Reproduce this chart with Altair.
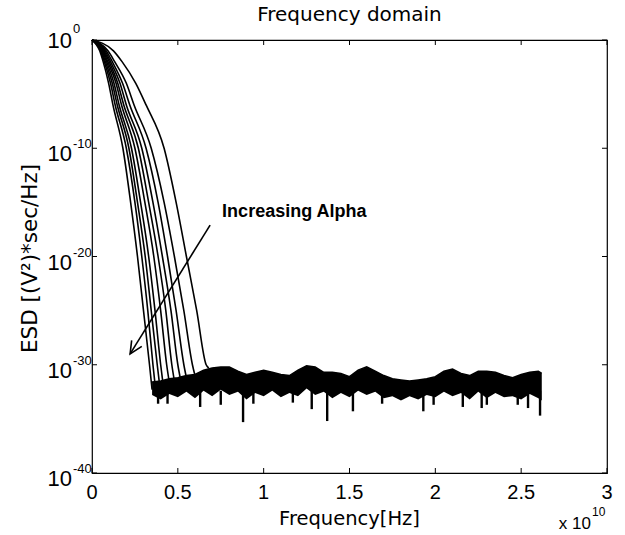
import altair as alt
import pandas as pd

W, H = 515, 433
FONT = "Liberation Sans"
WIDE = "DejaVu Sans"

# ---- decaying part of each ESD curve: frequency (x1e10 Hz) at given log10 levels
levels = [0, -1, -2, -4, -6, -10, -15, -20, -25, -30]
curve_f = [
    [0, 0.045, 0.065, 0.097, 0.122, 0.180, 0.225, 0.265, 0.300, 0.335],
    [0, 0.050, 0.072, 0.108, 0.135, 0.200, 0.250, 0.290, 0.325, 0.355],
    [0, 0.055, 0.078, 0.118, 0.147, 0.215, 0.265, 0.310, 0.345, 0.380],
    [0, 0.060, 0.085, 0.128, 0.158, 0.230, 0.283, 0.330, 0.367, 0.400],
    [0, 0.065, 0.092, 0.140, 0.172, 0.250, 0.308, 0.360, 0.400, 0.435],
    [0, 0.070, 0.100, 0.150, 0.185, 0.270, 0.330, 0.385, 0.430, 0.465],
    [0, 0.076, 0.108, 0.163, 0.200, 0.290, 0.355, 0.410, 0.460, 0.500],
    [0, 0.083, 0.118, 0.178, 0.220, 0.315, 0.385, 0.440, 0.490, 0.535],
    [0, 0.093, 0.132, 0.200, 0.245, 0.345, 0.420, 0.480, 0.535, 0.585],
    [0, 0.125, 0.175, 0.255, 0.315, 0.420, 0.490, 0.550, 0.610, 0.665],
]
# where each curve meets the noise floor
end_f = [0.350, 0.370, 0.395, 0.415, 0.450, 0.480, 0.515, 0.550, 0.600, 0.680]
end_e = [-32.3, -32.2, -32.0, -31.9, -31.6, -31.5, -31.3, -31.2, -31.0, -30.3]

# ---- noise floor band (log10 ESD): upper edge and lower edge of the dense trace bundle
floor_f = [0.35, 0.40, 0.45, 0.50, 0.55, 0.60, 0.65, 0.70, 0.75, 0.80, 0.85, 0.90,
           0.95, 1.00, 1.05, 1.10, 1.15, 1.20, 1.25, 1.30, 1.35, 1.40, 1.45, 1.50,
           1.55, 1.60, 1.65, 1.70, 1.75, 1.80, 1.85, 1.90, 1.95, 2.00, 2.05, 2.10,
           2.15, 2.20, 2.25, 2.30, 2.35, 2.40, 2.45, 2.50, 2.55, 2.60, 2.62]
floor_hi = [-31.6, -31.5, -31.3, -31.2, -31.0, -30.9, -30.5, -30.3, -30.2, -30.2, -30.6, -30.9,
            -30.7, -30.5, -30.7, -30.9, -31.0, -30.5, -30.1, -30.2, -30.7, -30.7, -30.8, -31.1,
            -30.5, -30.2, -30.6, -31.0, -31.3, -31.4, -31.5, -31.4, -31.3, -31.1, -30.6, -30.4,
            -30.8, -31.0, -30.6, -30.6, -30.7, -31.0, -31.2, -30.9, -30.7, -30.6, -30.8]
floor_lo = [-32.8, -33.2, -32.7, -33.0, -32.5, -33.1, -32.4, -32.9, -32.3, -32.8, -32.5, -33.2,
            -32.6, -32.9, -32.4, -33.0, -32.6, -32.9, -32.2, -32.8, -32.5, -33.1, -32.6, -33.0,
            -32.4, -32.8, -32.5, -33.1, -32.9, -33.3, -32.9, -33.2, -32.8, -33.0, -32.5, -32.9,
            -32.6, -33.2, -32.5, -33.1, -32.6, -33.0, -32.9, -33.2, -32.7, -33.1, -33.3]

# deep downward spikes of the floor
spike_f = [0.385, 0.44, 0.63, 0.75, 0.88, 0.94, 1.17, 1.28, 1.37, 1.52, 1.69,
           1.93, 1.99, 2.16, 2.27, 2.30, 2.48, 2.54, 2.61]
spike_e = [-33.6, -33.6, -33.9, -33.7, -35.3, -33.6, -33.5, -34.1, -35.2, -34.3, -33.6,
           -34.3, -33.7, -33.9, -34.0, -33.7, -33.7, -34.0, -34.7]

# axes
x_ticks = [0, 0.5, 1, 1.5, 2, 2.5, 3]
x_labels = ["0", "0.5", "1", "1.5", "2", "2.5", "3"]
y_ticks = [-40, -30, -20, -10, 0]
y_exp_labels = ["-40", "-30", "-20", "-10", "0"]

# annotation arrow (data coordinates)
arrow_x = [0.688, 0.222]
arrow_y = [-17.1, -29.0]
head_x = [0.290, 0.222, 0.231]
head_y = [-28.3, -29.0, -27.75]

rows = []
for i, fs in enumerate(curve_f):
    k = 0
    for f, e in zip(fs, levels):
        rows.append({"curve": i, "f": f, "e": e, "o": k}); k += 1
    rows.append({"curve": i, "f": end_f[i], "e": end_e[i], "o": k})
curves = pd.DataFrame(rows)
floor = pd.DataFrame({"f": floor_f, "hi": floor_hi, "lo": floor_lo})
spikes = pd.DataFrame({"f": spike_f, "e": spike_e})
xt = pd.DataFrame({"t": x_ticks, "lab": x_labels})
yt = pd.DataFrame({"t": y_ticks, "lab": y_exp_labels})
arrow = pd.DataFrame({"f": arrow_x, "e": arrow_y, "o": [0, 1]})
head = pd.DataFrame({"f": head_x, "e": head_y, "o": [0, 1, 2]})

xs = alt.Scale(domain=[0, 3], nice=False, zero=False)
ys = alt.Scale(domain=[-40, 0], nice=False, zero=False)
X = lambda f: alt.X(f, scale=xs, axis=None)
Y = lambda f: alt.Y(f, scale=ys, axis=None)

curve_layer = alt.Chart(curves).mark_line(color="black", strokeWidth=1.6, interpolate="monotone").encode(
    x=X("f:Q"), y=Y("e:Q"), detail="curve:N", order="o:Q")

band = alt.Chart(floor).mark_area(color="black", interpolate="linear").encode(
    x=X("f:Q"), y=Y("hi:Q"), y2="lo:Q")
band_edge = alt.Chart(floor).mark_line(color="black", strokeWidth=1.5).encode(
    x=X("f:Q"), y=Y("hi:Q"))
spike_layer = alt.Chart(spikes).mark_rule(color="black", strokeWidth=2.4).encode(
    x=X("f:Q"), y=Y("e:Q"), y2=alt.datum(-32.4))

tick_b = alt.Chart(xt).mark_rule(color="black", strokeWidth=1).encode(
    x=X("t:Q"), y=alt.value(H), y2=alt.value(H - 5))
tick_t = alt.Chart(xt).mark_rule(color="black", strokeWidth=1).encode(
    x=X("t:Q"), y=alt.value(0), y2=alt.value(5))
tick_l = alt.Chart(yt).mark_rule(color="black", strokeWidth=1).encode(
    y=Y("t:Q"), x=alt.value(0), x2=alt.value(5))
tick_r = alt.Chart(yt).mark_rule(color="black", strokeWidth=1).encode(
    y=Y("t:Q"), x=alt.value(W - 5), x2=alt.value(W))

x_lab = alt.Chart(xt).mark_text(font=FONT, fontSize=20, align="center", baseline="middle",
                                color="black").encode(
    x=X("t:Q"), y=alt.value(H + 20), text="lab:N")

ten_main = alt.Chart(yt).transform_filter("datum.t != 0").mark_text(
    font=FONT, fontSize=22, align="right", baseline="middle", dy=6, color="black").encode(
    y=Y("t:Q"), x=alt.value(-20), text=alt.value("10"))
ten_zero = alt.Chart(yt).transform_filter("datum.t == 0").mark_text(
    font=FONT, fontSize=22, align="right", baseline="middle", dy=1, color="black").encode(
    y=Y("t:Q"), x=alt.value(-20), text=alt.value("10"))
exp_main = alt.Chart(yt).transform_filter("datum.t != 0").mark_text(
    font=FONT, fontSize=13, align="left", baseline="middle", dy=-4, color="black").encode(
    y=Y("t:Q"), x=alt.value(-19), text="lab:N")
exp_zero = alt.Chart(yt).transform_filter("datum.t == 0").mark_text(
    font=FONT, fontSize=13, align="left", baseline="middle", dy=-11, color="black").encode(
    y=Y("t:Q"), x=alt.value(-19), text="lab:N")

one = pd.DataFrame({"a": [0]})
title = alt.Chart(one).mark_text(font=WIDE, fontSize=20, align="center", baseline="middle",
                                 color="black").encode(
    x=alt.value(W / 2), y=alt.value(-25), text=alt.value("Frequency domain"))
xtitle = alt.Chart(one).mark_text(font=WIDE, fontSize=19.5, align="center", baseline="middle",
                                  color="black").encode(
    x=alt.value(W / 2), y=alt.value(H + 46), text=alt.value("Frequency[Hz]"))
ylab = alt.Chart(one).mark_text(font=WIDE, fontSize=21.5, align="center", baseline="middle",
                                angle=270, color="black").encode(
    x=alt.value(-61), y=alt.value(H / 2 + 2), text=alt.value("ESD [(V²)*sec/Hz]"))
xmul = alt.Chart(one).mark_text(font=FONT, fontSize=17, align="right", baseline="middle",
                                color="black").encode(
    x=alt.value(W - 16), y=alt.value(H + 51), text=alt.value("x 10"))
xmul_exp = alt.Chart(one).mark_text(font=FONT, fontSize=12, align="left", baseline="middle",
                                    color="black").encode(
    x=alt.value(W - 15), y=alt.value(H + 39), text=alt.value("10"))

note = alt.Chart(pd.DataFrame({"f": [0.758], "e": [-15.85]})).mark_text(
    font=FONT, fontSize=18, fontWeight="bold", align="left", baseline="middle", color="black").encode(
    x=X("f:Q"), y=Y("e:Q"), text=alt.value("Increasing Alpha"))
arrow_line = alt.Chart(arrow).mark_line(color="black", strokeWidth=1.6).encode(
    x=X("f:Q"), y=Y("e:Q"), order="o:Q")
head_line = alt.Chart(head).mark_line(color="black", strokeWidth=1.6).encode(
    x=X("f:Q"), y=Y("e:Q"), order="o:Q")

chart = alt.layer(
    band, band_edge, spike_layer, curve_layer,
    tick_b, tick_t, tick_l, tick_r, x_lab,
    ten_main, ten_zero, exp_main, exp_zero,
    title, xtitle, ylab, xmul, xmul_exp, note, arrow_line, head_line,
).properties(
    width=W, height=H,
    padding={"left": 92, "top": 40, "right": 18, "bottom": 62},
    autosize=alt.AutoSizeParams(type="none"),
).configure_view(stroke="black", strokeWidth=1.2)

chart.save("out.html", embed_options={"renderer": "svg", "actions": False})
